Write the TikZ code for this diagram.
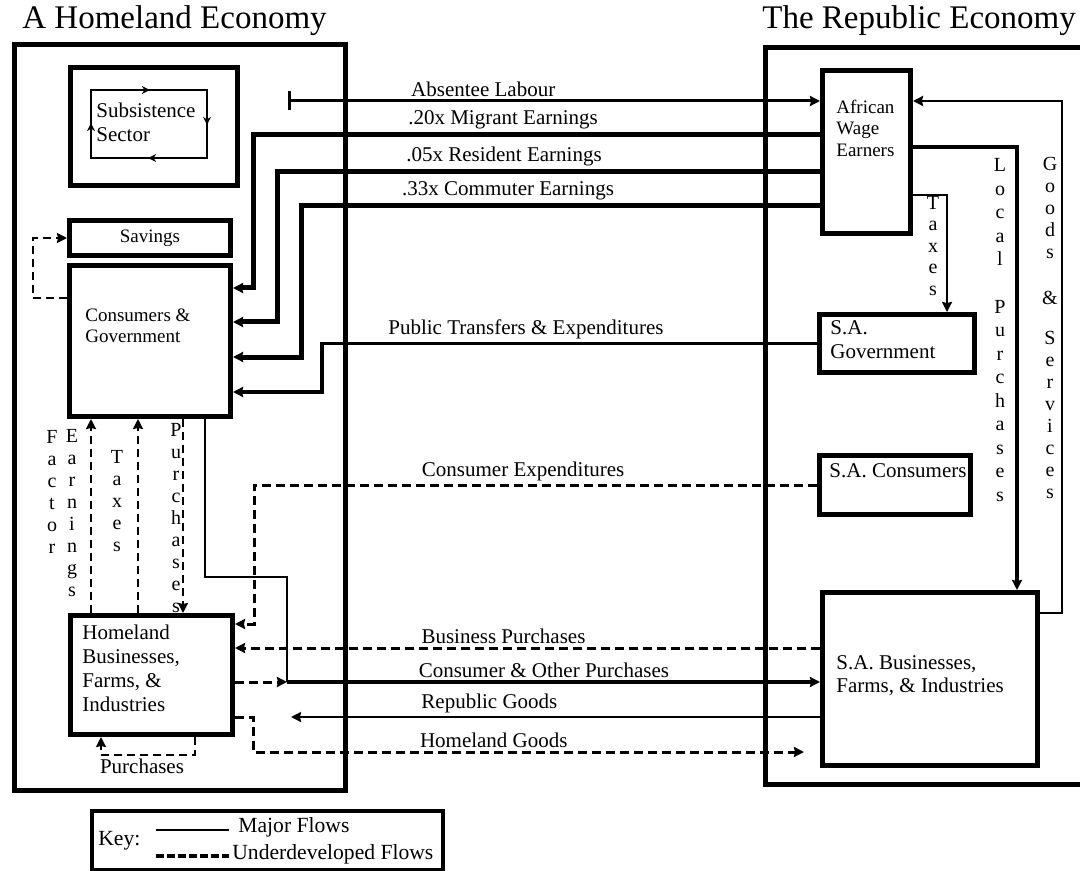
\documentclass[tikz,border=0pt]{standalone}
\usepackage{fontspec}
\setmainfont{Liberation Serif}
\usetikzlibrary{arrows.meta,positioning,decorations.markings}

\newcommand{\ttlfont}{\fontsize{16.5}{19}\selectfont}
\newcommand{\lblfont}{\fontsize{10.5}{12}\selectfont}
\newcommand{\smlfont}{\fontsize{9.5}{10.75}\selectfont}
\newcommand{\keyfont}{\fontsize{10.8}{12}\selectfont}

\begin{document}
\begin{tikzpicture}[x=0.5pt, y=-0.5pt, >={Stealth[length=5pt,width=5pt,inset=0.5pt]},
    box/.style={draw, line width=2.5pt, anchor=north west, inner sep=0pt},
    txt/.style={font=\lblfont, align=left, anchor=west, inner sep=0pt},
    lbl/.style={font=\lblfont, above, inner sep=1.5pt},
    vlbl/.style={font=\fontsize{10}{11}\selectfont, align=center, inner sep=0pt},
    bigflow/.style={line width=2.5pt},
    flow/.style={line width=1.8pt},
    thinflow/.style={line width=1pt},
    dflow/.style={line width=1.5pt, dash pattern=on 4.5pt off 2.5pt},
    thindflow/.style={line width=1pt, dash pattern=on 4pt off 2.5pt}]
    \useasboundingbox (0,0) rectangle (1080,871);
    \clip (0,0) rectangle (1080,871);
    \fill[white] (0,0) rectangle (1080,871);

    % the two economies
    \node (home) [box, minimum width=165.5pt, minimum height=373pt] at (12,42) {};
    \node (rep) [box, minimum width=168.5pt, minimum height=368.5pt] at (763,45) {};
    \node (homettl) [font=\ttlfont, anchor=west, inner sep=0pt] at (22,21) {A Homeland Economy};
    \node (repttl) [font=\ttlfont, anchor=west, inner sep=0pt] at (762,21) {The Republic Economy};

    % homeland boxes
    \node (sub) [box, minimum width=83.5pt, minimum height=59pt] at (68,65) {};
    \draw[thinflow, postaction={decorate}, decoration={markings,
        mark=at position 0.16 with {\arrow{Stealth[length=4pt,width=4pt]}},
        mark=at position 0.41 with {\arrow{Stealth[length=4pt,width=4pt]}},
        mark=at position 0.66 with {\arrow{Stealth[length=4pt,width=4pt]}},
        mark=at position 0.91 with {\arrow{Stealth[length=4pt,width=4pt]}}}]
      (91,90) -- (207,90) -- (207,158) -- (91,158) -- cycle;
    \node (subtxt) [txt] at (96,122) {Subsistence\\Sector};
    \node (savings) [box, font=\smlfont, minimum width=80.5pt, minimum height=17.5pt] at (67,218) {Savings};
    \node (cg) [box, minimum width=80.5pt, minimum height=75.5pt] at (67,263) {};
    \node (cgtxt) [txt, font=\smlfont] at (85,326) {Consumers \&\\Government};
    \node (hb) [box, minimum width=81pt, minimum height=59.5pt] at (68,613) {};
    \node (hbtxt) [txt] at (82,668) {Homeland\\Businesses,\\Farms, \&\\Industries};

    % republic boxes
    \node (awe) [box, minimum width=44pt, minimum height=81.5pt] at (820,68) {};
    \node (awetxt) [txt, font=\smlfont] at (836,128) {African\\Wage\\Earners};
    \node (sagov) [box, minimum width=77.5pt, minimum height=29pt] at (817,312) {};
    \node (sagovtxt) [txt] at (830,340) {S.A.\\Government};
    \node (sacons) [box, minimum width=75.5pt, minimum height=29.5pt] at (817,453) {};
    \node (sacontxt) [txt] at (829,471) {S.A. Consumers};
    \node (sabus) [box, minimum width=107.5pt, minimum height=86.5pt] at (820,590) {};
    \node (sabustxt) [txt, font=\fontsize{10.5}{11.5}\selectfont] at (836,676) {S.A. Businesses,\\Farms, \& Industries};

    % flows between the economies
    \coordinate (absend) at (288,101);
    \draw[flow, line width=1.5pt, {Bar[width=9.5pt]}->] (absend) -- node[lbl, pos=0.367] {Absentee Labour} (awe.west |- absend);
    \draw[bigflow, ->] (awe.west |- 0,135) -- node[lbl, pos=0.559] {.20x Migrant Earnings} (253,135) |- (cg.east |- 0,288);
    \draw[bigflow, ->] (awe.west |- 0,172) -- node[lbl, pos=0.582] {.05x Resident Earnings} (277,172) |- (cg.east |- 0,322);
    \draw[bigflow, ->] (awe.west |- 0,206) -- node[lbl, pos=0.601] {.33x Commuter Earnings} (301,206) |- (cg.east |- 0,357);
    \draw[flow, ->] (sagov.west) -- node[lbl, pos=0.588] {Public Transfers \& Expenditures} (sagov.west -| 322,0) |- (cg.east |- 0,392);
    \draw[dflow, ->] (sacons.west) -- node[lbl, pos=0.522] {Consumer Expenditures} (sacons.west -| 254,0) |- (hb.east |- 0,624);
    \draw[dflow, ->] (sabus.west |- 0,648) -- node[lbl, pos=0.541] {Business Purchases} (hb.east |- 0,648);

    \coordinate (cop) at (287,682);
    \draw[thinflow] (cg.south -| 205,0) |- (cop |- 0,577) -- (cop);
    \draw[dflow, ->] (hb.east |- cop) -- (cop);
    \draw[flow, ->] (cop) -- node[lbl, pos=0.482] {Consumer \& Other Purchases} (sabus.west |- cop);

    \coordinate (rgend) at (291,717);
    \draw[thinflow, ->] (sabus.west |- rgend) -- node[lbl, pos=0.625] {Republic Goods} (rgend);
    \coordinate (hgend) at (804,752);
    \draw[dflow, ->] (hb.east |- 0,717) -| (253,752) -- node[lbl, pos=0.437] {Homeland Goods} (hgend);

    % inside the homeland
    \draw[thindflow, ->] (cg.west |- 0,298) -| ([xshift=-17pt]savings.west) -- (savings.west);
    \draw[thindflow, ->] (hb.north -| 91,0) -- (cg.south -| 91,0);
    \draw[thindflow, ->] (hb.north -| 138,0) -- (cg.south -| 138,0);
    \draw[thindflow, ->] (cg.south -| 183,0) -- (hb.north -| 183,0);
    \draw[thindflow, ->] (hb.south -| 195,0) |- (101,755) -- (hb.south -| 101,0);
    \node (hbpur) [font=\lblfont, inner sep=0pt] at (142,766) {Purchases};
    \node (fctlbl) [vlbl] at (52,492) {F\\a\\c\\t\\o\\r};
    \node (earnlbl) [vlbl] at (72,513) {E\\a\\r\\n\\i\\n\\g\\s};
    \node (taxlbl) [vlbl] at (117,501) {T\\a\\x\\e\\s};
    \node (purlbl) [vlbl] at (176,518) {P\\u\\r\\c\\h\\a\\s\\e\\s};

    % inside the republic
    \draw[thinflow, ->] (awe.east |- 0,195) -| (sagov.north -| 947,0);
    \draw[flow, ->] (awe.east |- 0,147) -| (sabus.north -| 1017,0);
    \draw[thinflow, line width=1.2pt, ->] (sabus.east |- 0,613) -| (1062,101) -- (awe.east |- 0,101);
    \node (rtaxlbl) [vlbl, font=\fontsize{10}{10.75}\selectfont] at (933,246) {T\\a\\x\\e\\s};
    \node (loclbl) [vlbl, font=\fontsize{10}{11.75}\selectfont] at (1000,330) {L\\o\\c\\a\\l\\[12pt]P\\u\\r\\c\\h\\a\\s\\e\\s};
    \node (gdslbl) [vlbl] at (1050,328) {G\\o\\o\\d\\s\\[12pt]\&\\[9pt]S\\e\\r\\v\\i\\c\\e\\s};

    % key
    \node (key) [box, line width=2pt, minimum width=175.5pt, minimum height=29.5pt] at (90,809) {};
    \node (keyttl) [txt, font=\keyfont] at (98,841) {Key:};
    \node (keymaj) [txt, font=\keyfont] at (238,827) {Major Flows};
    \node (keyund) [txt, font=\keyfont] at (232,854) {Underdeveloped Flows};
    \draw[thinflow] (156,830) -- (229,830);
    \draw[line width=2pt, dash pattern=on 4pt off 1.5pt] (156,856) -- (229,856);
\end{tikzpicture}
\end{document}
